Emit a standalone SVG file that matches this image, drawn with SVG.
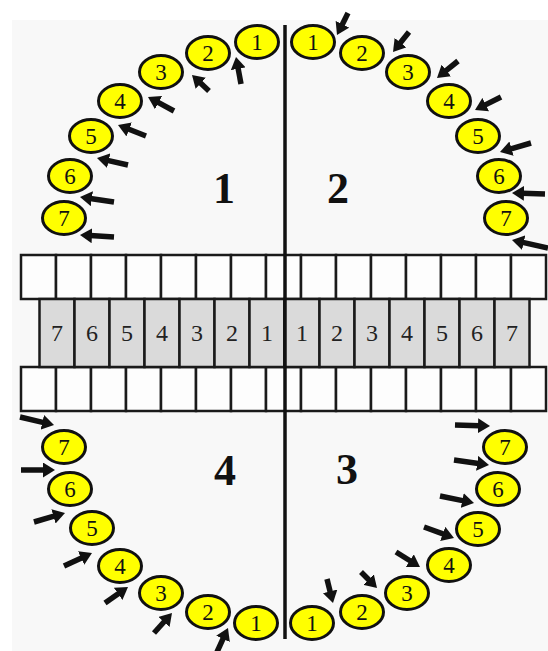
<svg xmlns="http://www.w3.org/2000/svg" width="548" height="651" viewBox="0 0 548 651">
<style>
.bg{fill:#f8f8f8}
.c ellipse{fill:#ffff00;stroke:#111;stroke-width:3}
.c text{font-family:"Liberation Serif","Times New Roman",serif;font-size:23px;fill:#111;text-anchor:middle}
.box{fill:#fdfdfd;stroke:#1a1a1a;stroke-width:2.5}
.mid rect{fill:#dadada;stroke:#1a1a1a;stroke-width:2.5}
.mid text{font-family:"Liberation Serif","Times New Roman",serif;font-size:24px;fill:#222;text-anchor:middle}
.q{font-family:"Liberation Serif","Times New Roman",serif;font-size:44px;font-weight:bold;fill:#111;text-anchor:middle}
.arr path{fill:none;stroke:#111;stroke-width:5.5;stroke-dasharray:70 100;marker-end:url(#ah)}
.axis{stroke:#111;stroke-width:3.5}
</style>
<defs>
<marker id="ah" markerUnits="userSpaceOnUse" viewBox="0 0 12 15" refX="12" refY="7.5" markerWidth="12" markerHeight="15" orient="auto">
<path d="M0,0 L12,7.5 L0,15 Z" fill="#111"/>
</marker>
</defs>
<rect width="548" height="651" fill="#ffffff"/>
<rect class="bg" x="12" y="20" width="536" height="631"/>

<g id="rows">
<g id="top-row">
<rect class="box" x="21" y="255" width="35" height="44"/><rect class="box" x="56" y="255" width="35" height="44"/><rect class="box" x="91" y="255" width="35" height="44"/><rect class="box" x="126" y="255" width="35" height="44"/><rect class="box" x="161" y="255" width="35" height="44"/><rect class="box" x="196" y="255" width="35" height="44"/><rect class="box" x="231" y="255" width="35" height="44"/><rect class="box" x="266" y="255" width="35" height="44"/><rect class="box" x="301" y="255" width="35" height="44"/><rect class="box" x="336" y="255" width="35" height="44"/><rect class="box" x="371" y="255" width="35" height="44"/><rect class="box" x="406" y="255" width="35" height="44"/><rect class="box" x="441" y="255" width="35" height="44"/><rect class="box" x="476" y="255" width="35" height="44"/><rect class="box" x="511" y="255" width="35" height="44"/>
</g>
<g id="bottom-row">
<rect class="box" x="21" y="367" width="35" height="44"/><rect class="box" x="56" y="367" width="35" height="44"/><rect class="box" x="91" y="367" width="35" height="44"/><rect class="box" x="126" y="367" width="35" height="44"/><rect class="box" x="161" y="367" width="35" height="44"/><rect class="box" x="196" y="367" width="35" height="44"/><rect class="box" x="231" y="367" width="35" height="44"/><rect class="box" x="266" y="367" width="35" height="44"/><rect class="box" x="301" y="367" width="35" height="44"/><rect class="box" x="336" y="367" width="35" height="44"/><rect class="box" x="371" y="367" width="35" height="44"/><rect class="box" x="406" y="367" width="35" height="44"/><rect class="box" x="441" y="367" width="35" height="44"/><rect class="box" x="476" y="367" width="35" height="44"/><rect class="box" x="511" y="367" width="35" height="44"/>
</g>
<g id="mid-row" class="mid">
<g id="m-l7"><rect x="39.5" y="299" width="35" height="68"/><text x="57" y="341">7</text></g>
<g id="m-l6"><rect x="74.5" y="299" width="35" height="68"/><text x="92" y="341">6</text></g>
<g id="m-l5"><rect x="109.5" y="299" width="35" height="68"/><text x="127" y="341">5</text></g>
<g id="m-l4"><rect x="144.5" y="299" width="35" height="68"/><text x="162" y="341">4</text></g>
<g id="m-l3"><rect x="179.5" y="299" width="35" height="68"/><text x="197" y="341">3</text></g>
<g id="m-l2"><rect x="214.5" y="299" width="35" height="68"/><text x="232" y="341">2</text></g>
<g id="m-l1"><rect x="249.5" y="299" width="35" height="68"/><text x="267" y="341">1</text></g>
<g id="m-r1"><rect x="284.5" y="299" width="35" height="68"/><text x="302" y="341">1</text></g>
<g id="m-r2"><rect x="319.5" y="299" width="35" height="68"/><text x="337" y="341">2</text></g>
<g id="m-r3"><rect x="354.5" y="299" width="35" height="68"/><text x="372" y="341">3</text></g>
<g id="m-r4"><rect x="389.5" y="299" width="35" height="68"/><text x="407" y="341">4</text></g>
<g id="m-r5"><rect x="424.5" y="299" width="35" height="68"/><text x="442" y="341">5</text></g>
<g id="m-r6"><rect x="459.5" y="299" width="35" height="68"/><text x="477" y="341">6</text></g>
<g id="m-r7"><rect x="494.5" y="299" width="35" height="68"/><text x="512" y="341">7</text></g>
</g>
</g>

<line class="axis" x1="285" y1="25" x2="285" y2="639"/>

<text class="q" x="224" y="203">1</text>
<text class="q" x="338" y="203">2</text>
<text class="q" x="347" y="484">3</text>
<text class="q" x="225" y="485">4</text>

<g id="tl">
<g id="tl1" class="c"><ellipse cx="257" cy="42" rx="21.5" ry="16.5"/><text x="257" y="50">1</text></g>
<g id="tl2" class="c"><ellipse cx="208" cy="53" rx="21.5" ry="16.5"/><text x="208" y="61">2</text></g>
<g id="tl3" class="c"><ellipse cx="161" cy="72" rx="21.5" ry="16.5"/><text x="161" y="80">3</text></g>
<g id="tl4" class="c"><ellipse cx="120" cy="101" rx="21.5" ry="16.5"/><text x="120" y="109">4</text></g>
<g id="tl5" class="c"><ellipse cx="91" cy="136" rx="21.5" ry="16.5"/><text x="91" y="144">5</text></g>
<g id="tl6" class="c"><ellipse cx="70" cy="176" rx="21.5" ry="16.5"/><text x="70" y="184">6</text></g>
<g id="tl7" class="c"><ellipse cx="64" cy="218" rx="21.5" ry="16.5"/><text x="64" y="226">7</text></g>
</g>
<g id="tr">
<g id="tr1" class="c"><ellipse cx="313" cy="42" rx="21.5" ry="16.5"/><text x="313" y="50">1</text></g>
<g id="tr2" class="c"><ellipse cx="362" cy="53" rx="21.5" ry="16.5"/><text x="362" y="61">2</text></g>
<g id="tr3" class="c"><ellipse cx="408" cy="72" rx="21.5" ry="16.5"/><text x="408" y="80">3</text></g>
<g id="tr4" class="c"><ellipse cx="449" cy="101" rx="21.5" ry="16.5"/><text x="449" y="109">4</text></g>
<g id="tr5" class="c"><ellipse cx="478" cy="136" rx="21.5" ry="16.5"/><text x="478" y="144">5</text></g>
<g id="tr6" class="c"><ellipse cx="499" cy="176" rx="21.5" ry="16.5"/><text x="499" y="184">6</text></g>
<g id="tr7" class="c"><ellipse cx="506" cy="218" rx="21.5" ry="16.5"/><text x="506" y="226">7</text></g>
</g>
<g id="bl">
<g id="bl1" class="c"><ellipse cx="256" cy="623" rx="21.5" ry="16.5"/><text x="256" y="631">1</text></g>
<g id="bl2" class="c"><ellipse cx="208" cy="612" rx="21.5" ry="16.5"/><text x="208" y="620">2</text></g>
<g id="bl3" class="c"><ellipse cx="161" cy="593" rx="21.5" ry="16.5"/><text x="161" y="601">3</text></g>
<g id="bl4" class="c"><ellipse cx="120" cy="566" rx="21.5" ry="16.5"/><text x="120" y="574">4</text></g>
<g id="bl5" class="c"><ellipse cx="92" cy="528" rx="21.5" ry="16.5"/><text x="92" y="536">5</text></g>
<g id="bl6" class="c"><ellipse cx="70" cy="489" rx="21.5" ry="16.5"/><text x="70" y="497">6</text></g>
<g id="bl7" class="c"><ellipse cx="64" cy="447" rx="21.5" ry="16.5"/><text x="64" y="455">7</text></g>
</g>
<g id="br">
<g id="br1" class="c"><ellipse cx="312" cy="623" rx="21.5" ry="16.5"/><text x="312" y="631">1</text></g>
<g id="br2" class="c"><ellipse cx="362" cy="612" rx="21.5" ry="16.5"/><text x="362" y="620">2</text></g>
<g id="br3" class="c"><ellipse cx="407" cy="593" rx="21.5" ry="16.5"/><text x="407" y="601">3</text></g>
<g id="br4" class="c"><ellipse cx="449" cy="565" rx="21.5" ry="16.5"/><text x="449" y="573">4</text></g>
<g id="br5" class="c"><ellipse cx="478" cy="529" rx="21.5" ry="16.5"/><text x="478" y="537">5</text></g>
<g id="br6" class="c"><ellipse cx="498" cy="489" rx="21.5" ry="16.5"/><text x="498" y="497">6</text></g>
<g id="br7" class="c"><ellipse cx="505" cy="447" rx="21.5" ry="16.5"/><text x="505" y="455">7</text></g>
</g>

<g id="connectors" class="arr">
<path pathLength="100" d="M241,84 L236,57"/>
<path pathLength="100" d="M209,91 L192,75"/>
<path pathLength="100" d="M174,111 L148,97"/>
<path pathLength="100" d="M146,136 L118,125"/>
<path pathLength="100" d="M128,165 L97,158"/>
<path pathLength="100" d="M114,202 L80,197"/>
<path pathLength="100" d="M114,237 L80,235"/>
<path pathLength="100" d="M348,13 L337,35"/>
<path pathLength="100" d="M409,32 L393,52"/>
<path pathLength="100" d="M458,61 L437,78"/>
<path pathLength="100" d="M501,97 L475,110"/>
<path pathLength="100" d="M531,143 L500,152"/>
<path pathLength="100" d="M545,194 L512,193"/>
<path pathLength="100" d="M548,248 L512,240"/>
<path pathLength="100" d="M20,417 L54,425"/>
<path pathLength="100" d="M21,470 L55,470"/>
<path pathLength="100" d="M34,522 L65,513"/>
<path pathLength="100" d="M64,566 L92,553"/>
<path pathLength="100" d="M105,603 L128,587"/>
<path pathLength="100" d="M154,633 L172,613"/>
<path pathLength="100" d="M217,652 L228,628"/>
<path pathLength="100" d="M455,425 L490,426"/>
<path pathLength="100" d="M454,460 L489,465"/>
<path pathLength="100" d="M440,496 L474,503"/>
<path pathLength="100" d="M424,527 L454,538"/>
<path pathLength="100" d="M396,552 L420,567"/>
<path pathLength="100" d="M361,572 L377,588"/>
<path pathLength="100" d="M327,579 L333,603"/>
</g>
</svg>
